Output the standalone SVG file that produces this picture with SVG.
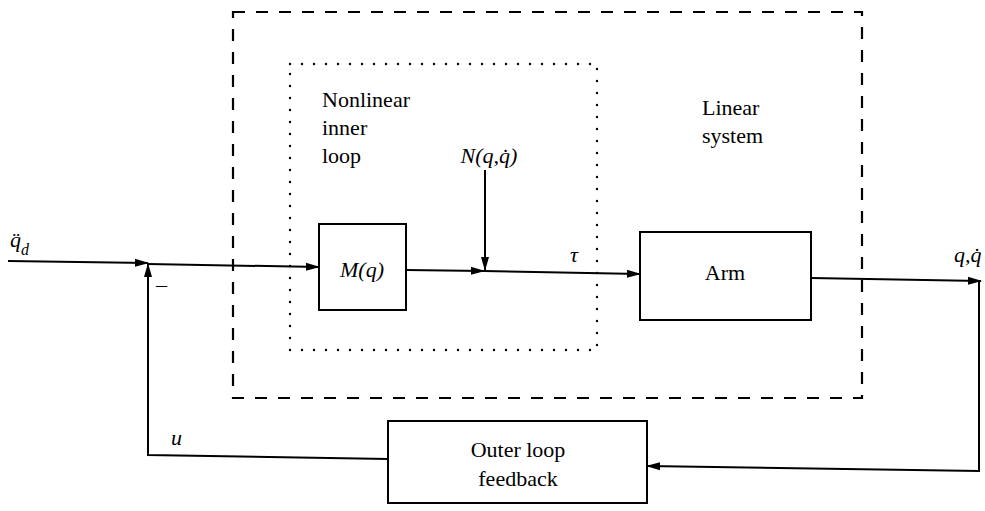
<svg xmlns="http://www.w3.org/2000/svg" width="985" height="511" viewBox="0 0 985 511">
<style>
  .box{fill:none;stroke:#000;stroke-width:2}
  .wire{fill:none;stroke:#000;stroke-width:2}
  .dash{fill:none;stroke:#000;stroke-width:2.2;stroke-dasharray:12 11}
  .dot{fill:none;stroke:#000;stroke-width:2.4;stroke-dasharray:0 12;stroke-linecap:round}
  .it{font-style:italic}
</style>
<defs>
  <marker id="ah" markerUnits="userSpaceOnUse" markerWidth="14" markerHeight="10" refX="13" refY="5" orient="auto">
    <path d="M0,1 L14,5 L0,9 z" fill="#000"/>
  </marker>
</defs>
<rect width="985" height="511" fill="#fff"/>
<g font-family="Times New Roman, Liberation Serif, DejaVu Serif, serif" font-size="22" fill="#000">
<g id="linear-system">
  <rect class="dash" x="233" y="12" width="629" height="386"/>
  <text x="702" y="115">Linear</text>
  <text x="702" y="143">system</text>
</g>

<g id="inner-loop">
  <rect class="dot" x="290" y="64" width="307" height="286"/>
  <text x="322" y="107">Nonlinear</text>
  <text x="322" y="135">inner</text>
  <text x="322" y="163">loop</text>
</g>

<g id="M">
  <rect class="box" x="319" y="224" width="87" height="86"/>
  <text class="it" x="362" y="277" text-anchor="middle">M(q)</text>
</g>

<g id="arm">
  <rect class="box" x="640" y="232" width="171" height="88"/>
  <text x="725" y="280" text-anchor="middle">Arm</text>
</g>

<g id="outer">
  <rect class="box" x="388" y="421" width="259" height="82"/>
  <text x="518" y="457" text-anchor="middle">Outer loop</text>
  <text x="518" y="486" text-anchor="middle">feedback</text>
</g>

<g id="connectors">
  <path class="wire" d="M8,261 L148,263" marker-end="url(#ah)"/>
  <path class="wire" d="M148,264 L319,267" marker-end="url(#ah)"/>
  <path class="wire" d="M388,459 L148,455 L148,264" marker-end="url(#ah)"/>
  <path class="wire" d="M406,270 L484,271" marker-end="url(#ah)"/>
  <path class="wire" d="M485,170 L485,270" marker-end="url(#ah)"/>
  <path class="wire" d="M484,271 L640,274" marker-end="url(#ah)"/>
  <path class="wire" d="M811,278 L981,281" marker-end="url(#ah)"/>
  <path class="wire" d="M979,280 L979,471 L647,466" marker-end="url(#ah)"/>
</g>

<g id="labels">
  <text class="it" x="10" y="247">q̈<tspan font-size="16" dy="8">d</tspan></text>
  <text x="156" y="292">–</text>
  <text class="it" x="171" y="445">u</text>
  <text class="it" x="489" y="163" text-anchor="middle">N(q,q̇)</text>
  <text class="it" x="570" y="262">τ</text>
  <text class="it" x="954" y="262">q,q̇</text>
</g>
</g>
</svg>
